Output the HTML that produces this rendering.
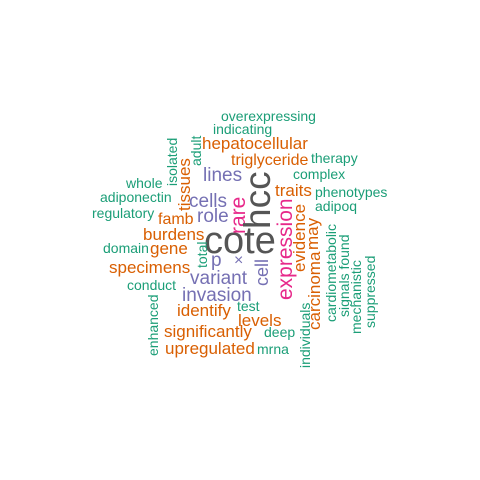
<!DOCTYPE html>
<html><head><meta charset="utf-8"><style>
html,body{margin:0;padding:0;background:#fff;}
svg{display:block;font-family:"Liberation Sans",Arial,sans-serif;}
.g{fill:#1b9e77}.o{fill:#d95f02}.p{fill:#7570b3}.k{fill:#e7298a}.d{fill:#555}
</style></head><body>
<svg width="480" height="480" viewBox="0 0 480 480">
<rect width="480" height="480" fill="#fff"/>
<text class="g" x="221" y="121" font-size="14">overexpressing</text>
<text class="g" x="213" y="134" font-size="14">indicating</text>
<text class="o" x="202" y="149" font-size="17">hepatocellular</text>
<text class="o" x="231" y="165" font-size="16">triglyceride</text>
<text class="g" x="311" y="163" font-size="14">therapy</text>
<text class="g" x="293" y="179" font-size="14">complex</text>
<text class="p" x="203" y="181" font-size="19">lines</text>
<text class="g" x="126" y="188" font-size="14">whole</text>
<text class="o" x="275" y="196" font-size="17">traits</text>
<text class="g" x="315" y="197" font-size="14">phenotypes</text>
<text class="g" x="100" y="202" font-size="14">adiponectin</text>
<text class="p" x="189" y="207" font-size="19">cells</text>
<text class="g" x="315" y="211" font-size="14">adipoq</text>
<text class="g" x="92" y="218" font-size="14">regulatory</text>
<text class="p" x="197" y="222" font-size="19">role</text>
<text class="o" x="158" y="224" font-size="16">famb</text>
<text class="o" x="143" y="240" font-size="17">burdens</text>
<text class="d" x="204" y="253" font-size="38">cote</text>
<text class="g" x="103" y="253" font-size="14">domain</text>
<text class="o" x="150" y="254" font-size="17">gene</text>
<text class="p" x="211" y="266" font-size="19">p</text>
<text class="p" x="234" y="265" font-size="16">×</text>
<text class="o" x="109" y="273" font-size="17">specimens</text>
<text class="p" x="190" y="284" font-size="19">variant</text>
<text class="g" x="127" y="290" font-size="14">conduct</text>
<text class="p" x="182" y="301" font-size="19">invasion</text>
<text class="g" x="237" y="311" font-size="14">test</text>
<text class="o" x="177" y="316" font-size="17">identify</text>
<text class="o" x="238" y="326" font-size="17">levels</text>
<text class="o" x="164" y="337" font-size="17">significantly</text>
<text class="g" x="264" y="337" font-size="14">deep</text>
<text class="o" x="165" y="354" font-size="17">upregulated</text>
<text class="g" x="257" y="354" font-size="14">mrna</text>

<text class="g" transform="translate(177,186) rotate(-90)" font-size="14">isolated</text>
<text class="g" transform="translate(201,166) rotate(-90)" font-size="14">adult</text>
<text class="o" transform="translate(190,211) rotate(-90)" font-size="17">tissues</text>
<text class="k" transform="translate(245,234) rotate(-90)" font-size="21">rare</text>
<text class="d" transform="translate(270,229) rotate(-90)" font-size="37">hcc</text>
<text class="g" transform="translate(207,268) rotate(-90)" font-size="14">total</text>
<text class="p" transform="translate(268,286) rotate(-90)" font-size="18">cell</text>
<text class="k" transform="translate(292,300) rotate(-90)" font-size="21">expression</text>
<text class="o" transform="translate(305,272) rotate(-90)" font-size="17">evidence</text>
<text class="o" transform="translate(318,250) rotate(-90)" font-size="17">may</text>
<text class="o" transform="translate(320,330) rotate(-90)" font-size="17">carcinoma</text>
<text class="g" transform="translate(336,322) rotate(-90)" font-size="14">cardiometabolic</text>
<text class="g" transform="translate(349,317) rotate(-90)" font-size="14">signals found</text>
<text class="g" transform="translate(361,334) rotate(-90)" font-size="14">mechanistic</text>
<text class="g" transform="translate(375,328) rotate(-90)" font-size="14">suppressed</text>
<text class="g" transform="translate(310,368) rotate(-90)" font-size="14">individuals</text>
<text class="g" transform="translate(158,356) rotate(-90)" font-size="14">enhanced</text>
</svg>
</body></html>
